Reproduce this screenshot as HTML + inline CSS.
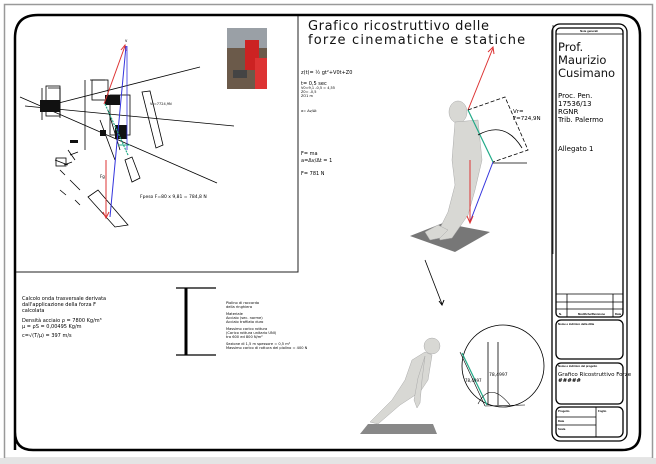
<!DOCTYPE html>
<html><head><meta charset="utf-8"><style>
html,body{margin:0;padding:0;background:#fff;}
svg{display:block;font-family:"Liberation Sans",sans-serif;}
.t{font-family:"DejaVu Sans","Liberation Sans",sans-serif;}
</style></head><body>
<svg width="656" height="464" viewBox="0 0 656 464" xmlns="http://www.w3.org/2000/svg">
<rect x="0" y="0" width="656" height="464" fill="#fff"/>
<rect x="4.5" y="4.5" width="648" height="454" fill="none" stroke="#999" stroke-width="1.5"/>
<rect x="0" y="458" width="656" height="6" fill="#e4e4e4"/>
<!-- main frame -->
<path d="M15,450 L15,38 Q15,15 38,15 L620,15 Q640,15 640,35 L640,432 Q640,450 622,450 L33,450 Q15,450 15,432" fill="none" stroke="#000" stroke-width="2.5"/>
<!-- left panel -->
<path d="M16,272 L298,272 L298,16" fill="none" stroke="#222" stroke-width="1"/>
<line x1="553" y1="25" x2="553" y2="254" stroke="#555" stroke-width="1"/>
<!-- photo -->
<rect x="227" y="28" width="40" height="61" fill="#6b5a4a"/>
<rect x="227" y="28" width="40" height="20" fill="#9aa0a6"/>
<rect x="245" y="40" width="14" height="30" fill="#c22"/>
<rect x="255" y="58" width="12" height="31" fill="#d33"/>
<rect x="233" y="70" width="14" height="8" fill="#444"/>
<!-- sketch region lines -->
<g stroke="#000" stroke-width="0.8" fill="none">
<line x1="20" y1="97" x2="217" y2="183"/>
<line x1="25" y1="106" x2="234" y2="126"/>
<line x1="43" y1="107" x2="200" y2="67"/>
<polygon points="142,92 150,91 163,145 156,148"/>
<polygon points="125,160 132,157 140,178 132,182"/>
<polygon points="88,197 98,190 128,225 115,227"/>
<path d="M85,80 L85,150 M90,80 L105,80 M42,88 L42,120 M48,88 L60,88 L60,118 M100,120 L115,160 M108,110 L120,150 M68,150 L75,160 M55,160 L68,165 M70,180 L80,190 M60,170 L65,175 M70,155 L78,152 M64,165 L72,162 M60,190 L66,195 M75,200 L80,205"/>
<rect x="46" y="86" width="14" height="30"/>
<rect x="92" y="80" width="16" height="20"/>
<rect x="110" y="95" width="20" height="40"/>
<rect x="56" y="158" width="10" height="8"/>
</g>
<g fill="#111">
<rect x="40" y="100" width="20" height="12"/>
<rect x="105" y="95" width="15" height="10"/>
<rect x="115" y="125" width="12" height="14"/>
<rect x="100" y="130" width="6" height="6"/>
<rect x="70" y="140" width="8" height="3"/>
</g>
<text x="150" y="105" font-size="3.5" class="t">Vr=7724,9N</text>
<line x1="104" y1="104" x2="125" y2="46" stroke="#d33" stroke-width="1"/>
<path d="M121,50 L125,45 L126,51" stroke="#d33" fill="none" stroke-width="1"/>
<line x1="126" y1="46" x2="110" y2="217" stroke="#33d" stroke-width="1"/>
<line x1="127" y1="46" x2="127" y2="150" stroke="#33d" stroke-width="0.8"/>
<line x1="106" y1="160" x2="106" y2="217" stroke="#d33" stroke-width="1"/>
<path d="M103,212 L106,218 L109,212" stroke="#d33" fill="none" stroke-width="1"/>
<line x1="105" y1="104" x2="128" y2="155" stroke="#2a8" stroke-width="1.2" stroke-dasharray="2,1"/>
<line x1="118" y1="145" x2="130" y2="145" stroke="#2a8" stroke-width="1"/>
<text x="125" y="42" font-size="4" class="t">v</text>
<text x="100" y="178" font-size="4" class="t">Fg</text>
<text x="140" y="198" font-size="4.5" class="t">Fpeso  F=80 x 9,81  =  784,8 N</text>
<!-- title -->
<text x="308" y="30" font-size="13" class="t" letter-spacing="0.6" fill="#111">Grafico ricostruttivo delle</text>
<text x="308" y="44" font-size="13" class="t" letter-spacing="1.2" fill="#111">forze cinematiche e statiche</text>
<g font-size="5" class="t">
<text x="301" y="74">z(t)= ½ gt²+V0t+Z0</text>
<text x="301" y="85">t= 0,5 sec</text>
<text x="301" y="89" font-size="3.5">V0=9,1  -0,5 = 4,55</text>
<text x="301" y="93" font-size="3.5">Z0= -0,5</text>
<text x="301" y="97" font-size="3.5">ZO1 m</text>
<text x="301" y="112" font-size="3.5">a= Δv/Δt</text>
<text x="301" y="155">F= ma</text>
<text x="301" y="162">a=Δv/Δt = 1</text>
<text x="301" y="175">F= 781 N</text>
</g>
<!-- right figure 1 -->
<polygon points="410,236 443,223 490,232 455,252" fill="#777"/>
<g fill="#d8d8d4" stroke="#aaa" stroke-width="0.5">
<ellipse cx="458" cy="112" rx="9" ry="11"/>
<path d="M455,122 L478,120 L482,160 L475,190 L468,215 L452,238 L440,240 L438,232 L448,212 L455,185 L452,160 Z"/>
<path d="M448,230 L440,238 L430,240 L425,232 L438,225 Z"/>
</g>
<line x1="468" y1="110" x2="493" y2="48" stroke="#d33" stroke-width="1"/>
<path d="M488,52 L493,47 L494,54" stroke="#d33" fill="none"/>
<line x1="468" y1="110" x2="493" y2="162" stroke="#2a8" stroke-width="1.2"/>
<line x1="493" y1="162" x2="470" y2="222" stroke="#33d" stroke-width="1"/>
<line x1="470" y1="160" x2="470" y2="222" stroke="#d33" stroke-width="1"/>
<path d="M467,216 L470,223 L473,216" stroke="#d33" fill="none"/>
<path d="M468,110 L505,97 L528,150 L493,162" stroke="#000" fill="none" stroke-width="0.8" stroke-dasharray="4,2"/>
<path d="M478,135 Q505,120 522,148" stroke="#000" fill="none" stroke-width="0.8"/>
<line x1="493" y1="163" x2="527" y2="163" stroke="#000" stroke-width="0.8"/>
<text x="513" y="113" font-size="5.5" class="t">Vr=</text>
<text x="513" y="120" font-size="5.5" class="t">F=724,9N</text>
<!-- arrow -->
<line x1="425" y1="260" x2="442" y2="304" stroke="#000" stroke-width="0.8"/>
<path d="M439,301 L442,305 L444,300" stroke="#000" fill="none"/>
<!-- figure 2 -->
<polygon points="360,434 368,424 433,424 437,434" fill="#888"/>
<g fill="#d8d8d4" stroke="#aaa" stroke-width="0.5">
<ellipse cx="432" cy="346" rx="8" ry="8"/>
<path d="M425,352 L432,355 L428,380 L420,392 L400,405 L378,424 L370,422 L392,400 L405,380 L412,360 Z"/>
<path d="M425,356 L422,380 L420,403 L417,408 L414,400 L418,378 Z"/>
</g>
<circle cx="503" cy="366" r="41" fill="none" stroke="#000" stroke-width="0.8"/>
<line x1="462" y1="353" x2="487" y2="405" stroke="#2a8" stroke-width="1.2"/>
<line x1="460" y1="352" x2="485" y2="406" stroke="#000" stroke-width="0.6"/>
<line x1="488" y1="342" x2="488" y2="405" stroke="#000" stroke-width="0.8"/>
<line x1="498" y1="342" x2="498" y2="405" stroke="#000" stroke-width="0.8"/>
<path d="M478,404 Q490,380 510,405" fill="none" stroke="#000" stroke-width="0.6"/>
<line x1="485" y1="406" x2="525" y2="405" stroke="#000" stroke-width="0.6"/>
<text x="489" y="376" font-size="4.5" class="t">78,4997</text>
<text x="465" y="382" font-size="4" class="t">78,4997</text>
<!-- bottom left text -->
<g font-size="5" class="t">
<text x="22" y="300">Calcolo onda trasversale derivata</text>
<text x="22" y="306">dall'applicazione della forza F</text>
<text x="22" y="312">calcolata</text>
<text x="22" y="322">Densità acciaio ρ = 7800 Kg/m³</text>
<text x="22" y="328">μ = ρS = 0,00495 Kg/m</text>
<text x="22" y="337">c=√(T/μ) = 397 m/s</text>
</g>
<line x1="176" y1="288" x2="216" y2="288" stroke="#000" stroke-width="1.2"/>
<line x1="176" y1="355" x2="216" y2="355" stroke="#000" stroke-width="1.2"/>
<line x1="186" y1="288" x2="186" y2="355" stroke="#000" stroke-width="3"/>
<g font-size="3.6" class="t">
<text x="226" y="304">Piolino di raccordo</text>
<text x="226" y="308">della ringhiera</text>
<text x="226" y="315">Materiale</text>
<text x="226" y="319">Acciaio (sec. norme)</text>
<text x="226" y="323">Acciaio trafilato duro</text>
<text x="226" y="330">Massimo carico rottura</text>
<text x="226" y="334">(Carico rottura unitario UNI)</text>
<text x="226" y="338">tra 600 ed 800 N/m²</text>
<text x="226" y="345">Sezione di 1,5 m spessore = 0,5 m²</text>
<text x="226" y="349">Massimo carico di rottura del piolino = 400 N</text>
</g>
<!-- title block -->
<g fill="none" stroke="#000" stroke-width="1.3">
<rect x="552" y="24" width="75" height="417" rx="8"/>
<rect x="556" y="28" width="67" height="289" rx="4"/>
<rect x="556" y="320" width="67" height="39" rx="5"/>
<rect x="556" y="363" width="67" height="41" rx="5"/>
<rect x="556" y="407" width="67" height="30" rx="5"/>
</g>
<g stroke="#000" stroke-width="0.8">
<line x1="556" y1="34" x2="623" y2="34"/>
<line x1="556" y1="294" x2="623" y2="294"/>
<line x1="556" y1="302" x2="623" y2="302"/>
<line x1="556" y1="309" x2="623" y2="309"/>
<line x1="567" y1="294" x2="567" y2="317"/>
<line x1="613" y1="294" x2="613" y2="317"/>
<line x1="596" y1="407" x2="596" y2="437"/>
<line x1="556" y1="417" x2="596" y2="417"/>
<line x1="556" y1="425" x2="596" y2="425"/>
</g>
<text x="589" y="32" font-size="2.8" text-anchor="middle" font-weight="bold">Note generali</text>
<g class="t" font-size="11.5" fill="#111">
<text x="558" y="51">Prof.</text>
<text x="558" y="64">Maurizio</text>
<text x="558" y="77">Cusimano</text>
</g>
<g class="t" font-size="7">
<text x="558" y="98">Proc. Pen.</text>
<text x="558" y="106">17536/13</text>
<text x="558" y="114">RGNR</text>
<text x="558" y="122">Trib. Palermo</text>
<text x="558" y="151">Allegato 1</text>
</g>
<g font-size="2.8" font-weight="bold">
<text x="559" y="315">N.</text>
<text x="578" y="315">Modifiche/Revisione</text>
<text x="615" y="315">Data</text>
<text x="558" y="325">Nome e indirizzo della ditta</text>
<text x="558" y="367">Nome e indirizzo del progetto</text>
<text x="558" y="412">Progetto</text>
<text x="598" y="412">Foglio</text>
<text x="558" y="422">Data</text>
<text x="558" y="430">Scala</text>
</g>
<text x="558" y="376" font-size="5.5" class="t">Grafico Ricostruttivo Forze</text>
<text x="558" y="382" font-size="5.5" class="t" font-weight="bold">#####</text>
</svg>
</body></html>
